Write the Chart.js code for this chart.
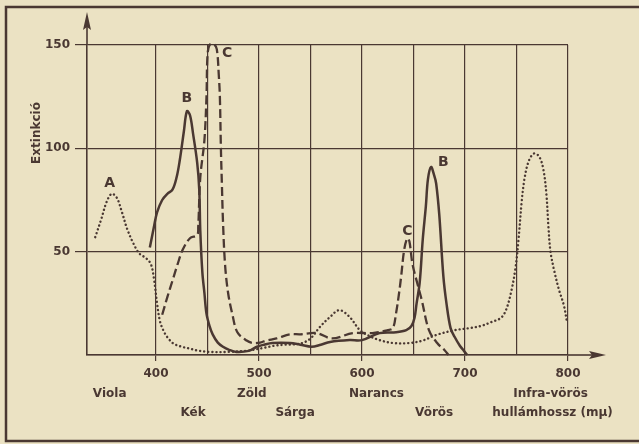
<!DOCTYPE html>
<html>
<head>
<meta charset="utf-8">
<script src="https://cdn.jsdelivr.net/npm/chart.js@4.4.0/dist/chart.umd.min.js"></script>
<style>
  html, body { margin: 0; padding: 0; background: #ebe2c3; }
  canvas { display: block; }
</style>
</head>
<body>
<canvas id="chart" width="639" height="444"></canvas>
<script>
// --- data (wavelength in mμ, extinction) ---
const wavelengthA = [341, 347, 352, 357, 362, 367, 372, 378, 384, 390, 395, 398, 401, 404, 408, 412, 417, 425, 432, 440, 452, 470, 490, 505, 515, 525, 540, 550, 559, 569, 578, 588, 598, 608, 617, 630, 646, 659, 672, 690, 704, 715, 726, 735, 740, 745, 749, 752, 755, 758, 762, 767, 772, 776, 779, 781, 783, 787, 791, 796, 799];
const extinctionA = [57, 66, 74, 78, 76, 69, 61, 54, 49, 47, 44, 37, 25, 16, 11, 8, 5.5, 4, 3.2, 2.2, 1.5, 1.5, 2.2, 3.5, 4.5, 5, 5.5, 8, 13.5, 18.4, 21.7, 18.4, 12, 9, 7.2, 5.8, 5.8, 7, 9.7, 12, 13, 14, 16, 18, 22, 31, 42, 56, 74, 86, 94, 97.5, 96, 90, 78, 62, 50, 40, 32, 24, 16];

const wavelengthB = [394, 398, 401, 406, 411, 416, 420, 423, 427, 430, 433, 436, 440, 442, 443, 445, 447, 449, 452, 455, 460, 465, 471, 478, 490, 498, 505, 513, 530, 540, 551, 560, 569, 588, 600, 617, 633, 643, 648, 651, 653, 656, 659, 662, 664, 667, 670, 672, 675, 679, 682, 686, 690, 695, 699, 702];
const extinctionB = [52, 62, 69, 75, 78, 80, 86, 94, 108, 118, 116, 107, 93, 80, 60, 40, 30, 20, 14, 10, 6, 4, 2.5, 1.5, 2, 4, 5, 5.8, 5.8, 5, 4, 5, 6.3, 7.2, 7.2, 10.6, 11, 12, 14, 18, 25, 35, 56, 72, 85, 91, 87, 83, 68, 38, 25, 13, 8.7, 4.5, 2, 0];

const wavelengthC = [406, 411, 416, 421, 426, 433, 440, 441, 443, 447, 449, 450, 452, 456, 459, 461, 462, 463, 464, 465, 467, 470, 474, 479, 488, 494, 501, 507, 517, 530, 540, 556, 571, 591, 610, 625, 630, 633, 636, 638, 641, 644, 646, 649, 653, 658, 665, 673, 680, 684];
const extinctionC = [19.5, 28, 36, 44, 51, 56.5, 58, 62, 86, 104, 125, 145, 150, 150.5, 148, 135, 125, 100, 82, 65, 44, 30, 20, 11, 7, 5.8, 6, 7, 8, 10, 10, 10.6, 8, 10.6, 10.6, 12, 13, 20, 30, 38, 51, 56.5, 55, 44, 36, 26.6, 12, 5.8, 2.4, 0];

// axis ticks
const gridX = [400, 450, 500, 550, 600, 650, 700, 750, 800];
const gridY = [0, 50, 100, 150];

// curve letters (text, wavelength, extinction)
const curveLetters = ['A', 'B', 'C', 'B', 'C'];
const letterX = [355, 430, 469, 679, 644];
const letterY = [83, 124, 146, 93, 60];

// colour names under the axis (text, wavelength, row)
const colourNames = ['Viola', 'Kék', 'Zöld', 'Sárga', 'Narancs', 'Vörös', 'Infra-vörös', 'hullámhossz (mμ)'];
const colourX = [355, 436, 493, 535, 614, 670, 783, 785];
const colourRow = [0, 1, 0, 1, 0, 1, 0, 1];

const ink = '#4a3832';
const paper = '#ebe2c3';
const none = 'rgba(0,0,0,0)';
const tickFont = { family: 'DejaVu Sans', size: 12, weight: 'bold' };

const toPoints = (xs, ys) => xs.map((x, i) => ({ x: x, y: ys[i] }));

// paper, frame, arrows and the extra text
const paperPlugin = {
    id: 'paper',
    beforeDraw(chart) {
        const ctx = chart.ctx;
        ctx.save();
        ctx.fillStyle = paper;
        ctx.fillRect(0, 0, chart.width, chart.height);
        ctx.strokeStyle = ink;
        ctx.lineWidth = 2.5;
        ctx.beginPath();
        ctx.moveTo(639, 7);
        ctx.lineTo(6, 7);
        ctx.lineTo(6, 441);
        ctx.lineTo(639, 441);
        ctx.stroke();
        ctx.restore();
    },
    afterDraw(chart) {
        const ctx = chart.ctx;
        const xs = chart.scales.x;
        const ys = chart.scales.y;
        const area = chart.chartArea;
        ctx.save();
        ctx.strokeStyle = ink;
        ctx.fillStyle = ink;
        ctx.lineWidth = 1.6;

        // x axis runs on to an arrow
        ctx.beginPath();
        ctx.moveTo(area.right, area.bottom);
        ctx.lineTo(598, area.bottom);
        ctx.stroke();
        ctx.beginPath();
        ctx.moveTo(606, area.bottom);
        ctx.lineTo(589, area.bottom - 4);
        ctx.lineTo(592, area.bottom);
        ctx.lineTo(589, area.bottom + 4);
        ctx.closePath();
        ctx.fill();

        // y axis runs up to an arrow
        ctx.beginPath();
        ctx.moveTo(area.left, area.top);
        ctx.lineTo(area.left, 22);
        ctx.stroke();
        ctx.beginPath();
        ctx.moveTo(area.left, 12);
        ctx.lineTo(area.left - 4, 30);
        ctx.lineTo(area.left, 27);
        ctx.lineTo(area.left + 4, 30);
        ctx.closePath();
        ctx.fill();

        // curve letters
        ctx.font = 'bold 14px "DejaVu Sans"';
        ctx.textAlign = 'center';
        ctx.textBaseline = 'middle';
        curveLetters.forEach((t, i) => {
            ctx.fillText(t, xs.getPixelForValue(letterX[i]), ys.getPixelForValue(letterY[i]));
        });

        // colour names
        ctx.font = 'bold 12px "DejaVu Sans"';
        colourNames.forEach((t, i) => {
            ctx.fillText(t, xs.getPixelForValue(colourX[i]), colourRow[i] === 0 ? 394 : 413);
        });

        // y title
        ctx.translate(37, 133);
        ctx.rotate(-Math.PI / 2);
        ctx.font = 'bold 12px "DejaVu Sans"';
        ctx.fillText('Extinkció', 0, 0);
        ctx.restore();
    }
};

new Chart(document.getElementById('chart'), {
    type: 'line',
    data: {
        datasets: [
            {
                label: 'A',
                data: toPoints(wavelengthA, extinctionA),
                borderColor: ink,
                borderWidth: 2.4,
                borderDash: [0.1, 4],
                borderCapStyle: 'round',
                pointRadius: 0,
                tension: 0.35,
                clip: false
            },
            {
                label: 'B',
                data: toPoints(wavelengthB, extinctionB),
                borderColor: ink,
                borderWidth: 2.5,
                pointRadius: 0,
                tension: 0.35,
                clip: false
            },
            {
                label: 'C',
                data: toPoints(wavelengthC, extinctionC),
                borderColor: ink,
                borderWidth: 2.3,
                borderDash: [9, 4],
                pointRadius: 0,
                tension: 0.35,
                clip: false
            }
        ]
    },
    options: {
        responsive: false,
        animation: false,
        events: [],
        layout: { padding: { left: 0, top: 45, right: 71, bottom: 0 } },
        plugins: { legend: { display: false }, tooltip: { enabled: false } },
        scales: {
            x: {
                type: 'linear',
                min: 333,
                max: 800,
                afterBuildTicks: scale => { scale.ticks = gridX.map(v => ({ value: v })); },
                afterFit: scale => { scale.height = 89; },
                grid: {
                    color: ink,
                    lineWidth: 1.2,
                    tickLength: 6,
                    tickColor: c => (c.tick && c.tick.value % 100 === 0) ? ink : none
                },
                border: { color: ink, width: 1.6 },
                ticks: {
                    autoSkip: false,
                    maxRotation: 0,
                    padding: 6,
                    color: ink,
                    font: tickFont,
                    callback: v => v % 100 === 0 ? v : ''
                }
            },
            y: {
                min: 0,
                max: 150,
                afterBuildTicks: scale => { scale.ticks = gridY.map(v => ({ value: v })); },
                afterFit: scale => { scale.width = 87; },
                grid: {
                    color: ink,
                    lineWidth: 1.2,
                    tickLength: 12,
                    tickColor: c => (c.tick && c.tick.value === 0) ? none : ink
                },
                border: { color: ink, width: 1.6 },
                ticks: {
                    padding: 5,
                    color: ink,
                    font: tickFont,
                    callback: v => v === 0 ? '' : v
                }
            }
        }
    },
    plugins: [paperPlugin]
});
</script>
</body>
</html>
